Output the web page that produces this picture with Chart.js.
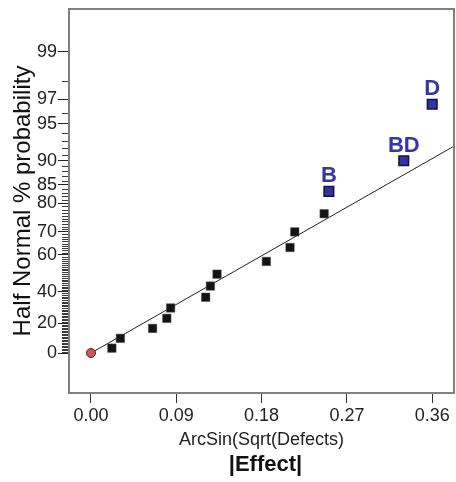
<!DOCTYPE html>
<html>
<head>
<meta charset="utf-8">
<script src="https://cdn.jsdelivr.net/npm/chart.js@4.4.1/dist/chart.umd.min.js"></script>
<style>
  html, body { margin: 0; padding: 0; background: #fff; }
  #wrap { width: 456px; height: 482px; }
</style>
</head>
<body>
<div id="wrap"><canvas id="myChart"></canvas></div>
<script>
// |effect| and half normal % probability of the effects
const smallEffects = [0.022, 0.031, 0.065, 0.080, 0.084, 0.121, 0.126, 0.133, 0.185, 0.210, 0.215, 0.246];
const smallProbs = [3.33, 10, 16.67, 23.33, 30, 36.67, 43.33, 50, 56.67, 63.33, 70, 76.67];
const bigEffects = [0.251, 0.330, 0.360];
const bigProbs = [83.33, 90, 96.67];
const bigNames = ['B', 'BD', 'D'];

const xTicks = [0, 0.09, 0.18, 0.27, 0.36];
const yTickLabels = [0, 20, 40, 60, 70, 80, 85, 90, 95, 97, 99];
const fitSlope = 4.62; // line through origin, in z units per effect unit

const xMin = -0.0232, xMax = 0.383;
const yMin = -0.342, yMax = 2.943;

// inverse normal cdf (Acklam)
function probit(p) {
  const a = [-3.969683028665376e+01, 2.209460984245205e+02, -2.759285104469687e+02, 1.383577518672690e+02, -3.066479806614716e+01, 2.506628277459239e+00];
  const b = [-5.447609879822406e+01, 1.615858368580409e+02, -1.556989798598866e+02, 6.680131188771972e+01, -1.328068155288572e+01];
  const c = [-7.784894002430293e-03, -3.223964580411365e-01, -2.400758277161838e+00, -2.549732539343734e+00, 4.374664141464968e+00, 2.938163982698783e+00];
  const d = [7.784695709041462e-03, 3.224671290700398e-01, 2.445134137142996e+00, 3.754408661907416e+00];
  const pl = 0.02425;
  let q, r;
  if (p < pl) {
    q = Math.sqrt(-2 * Math.log(p));
    return (((((c[0]*q+c[1])*q+c[2])*q+c[3])*q+c[4])*q+c[5]) / ((((d[0]*q+d[1])*q+d[2])*q+d[3])*q+1);
  }
  if (p <= 1 - pl) {
    q = p - 0.5; r = q * q;
    return (((((a[0]*r+a[1])*r+a[2])*r+a[3])*r+a[4])*r+a[5])*q / (((((b[0]*r+b[1])*r+b[2])*r+b[3])*r+b[4])*r+1);
  }
  q = Math.sqrt(-2 * Math.log(1 - p));
  return -(((((c[0]*q+c[1])*q+c[2])*q+c[3])*q+c[4])*q+c[5]) / ((((d[0]*q+d[1])*q+d[2])*q+d[3])*q+1);
}
// half normal % probability -> z
function hnz(pct) {
  if (pct <= 0) return 0;
  return probit(0.5 + pct / 200);
}

const toPoints = (xs, ps) => xs.map((x, i) => ({x: x, y: hnz(ps[i])}));

const extras = {
  id: 'extras',
  afterDraw(chart) {
    const {ctx, chartArea: a} = chart;
    const y = chart.scales.y;
    ctx.save();
    // minor ticks every 1 %
    ctx.fillStyle = '#3a3a3a';
    for (let p = 1; p < 99; p++) {
      if (yTickLabels.indexOf(p) >= 0) continue;
      const py = Math.round(y.getPixelForValue(hnz(p)));
      ctx.fillRect(a.left - 7, py, 6, 1);
    }
    // top and right frame
    ctx.strokeStyle = '#808080';
    ctx.lineWidth = 2;
    ctx.beginPath();
    ctx.moveTo(a.left, a.top);
    ctx.lineTo(a.right, a.top);
    ctx.lineTo(a.right, a.bottom);
    ctx.stroke();
    // effect names
    ctx.fillStyle = '#3535a6';
    ctx.font = 'bold 22px "Liberation Sans", Arial, sans-serif';
    ctx.textAlign = 'center';
    ctx.textBaseline = 'alphabetic';
    chart.getDatasetMeta(2).data.forEach((pt, i) => {
      ctx.fillText(bigNames[i], pt.x, pt.y - 9);
    });
    // second x title line
    ctx.fillStyle = '#111';
    ctx.textBaseline = 'middle';
    ctx.fillText('|Effect|', (a.left + a.right) / 2 + 4, a.bottom + 72);
    ctx.restore();
  }
};

const ctx = document.getElementById('myChart');
new Chart(ctx, {
  type: 'scatter',
  plugins: [extras],
  data: {
    datasets: [
      {
        type: 'line',
        data: [{x: 0, y: 0}, {x: xMax, y: fitSlope * xMax}],
        borderColor: '#222',
        borderWidth: 1,
        pointRadius: 0,
        fill: false,
        order: 3
      },
      {
        data: toPoints(smallEffects, smallProbs),
        pointStyle: 'rect',
        pointRadius: 6,
        backgroundColor: '#141414',
        borderColor: '#555',
        borderWidth: 0.5,
        order: 2
      },
      {
        data: toPoints(bigEffects, bigProbs),
        pointStyle: 'rect',
        pointRadius: 6.8,
        backgroundColor: '#3333a3',
        borderColor: '#15153a',
        borderWidth: 1.5,
        order: 1
      },
      {
        data: [{x: 0, y: 0}],
        pointStyle: 'circle',
        pointRadius: 4.5,
        backgroundColor: '#c85a5a',
        borderColor: '#5a2020',
        borderWidth: 1,
        order: 0
      }
    ]
  },
  options: {
    responsive: true,
    maintainAspectRatio: false,
    animation: false,
    layout: { autoPadding: false, padding: { top: 9, right: 2, left: 0, bottom: 0 } },
    plugins: {
      legend: { display: false },
      tooltip: { enabled: false }
    },
    scales: {
      x: {
        type: 'linear',
        min: xMin,
        max: xMax,
        afterBuildTicks: (scale) => { scale.ticks = xTicks.map(v => ({value: v})); },
        afterFit: (scale) => { scale.height = 89; scale.paddingLeft = 0; scale.paddingRight = 0; },
        ticks: {
          color: '#222',
          font: { family: '"Liberation Sans", Arial, sans-serif', size: 18 },
          padding: 2,
          maxRotation: 0,
          callback: (v) => v.toFixed(2)
        },
        grid: { drawOnChartArea: false, tickLength: 10, tickColor: '#333', tickWidth: 1 },
        border: { color: '#808080', width: 2 },
        title: {
          display: true,
          text: 'ArcSin(Sqrt(Defects)',
          color: '#222',
          font: { family: '"Liberation Sans", Arial, sans-serif', size: 18 },
          padding: { top: 0, bottom: 31 }
        }
      },
      y: {
        type: 'linear',
        min: yMin,
        max: yMax,
        afterBuildTicks: (scale) => { scale.ticks = yTickLabels.map(p => ({value: hnz(p)})); },
        afterFit: (scale) => { scale.width = 69; scale.paddingTop = 0; scale.paddingBottom = 0; },
        ticks: {
          color: '#222',
          font: { family: '"Liberation Sans", Arial, sans-serif', size: 18 },
          padding: 1,
          callback: (v, i) => String(yTickLabels[i])
        },
        grid: { drawOnChartArea: false, tickLength: 11, tickColor: '#222', tickWidth: 1 },
        border: { color: '#808080', width: 2 },
        title: {
          display: true,
          text: 'Half Normal % probability',
          color: '#111',
          font: { family: '"Liberation Sans", Arial, sans-serif', size: 24 },
          padding: { top: 9, bottom: 0 }
        }
      }
    }
  }
});
</script>
</body>
</html>
